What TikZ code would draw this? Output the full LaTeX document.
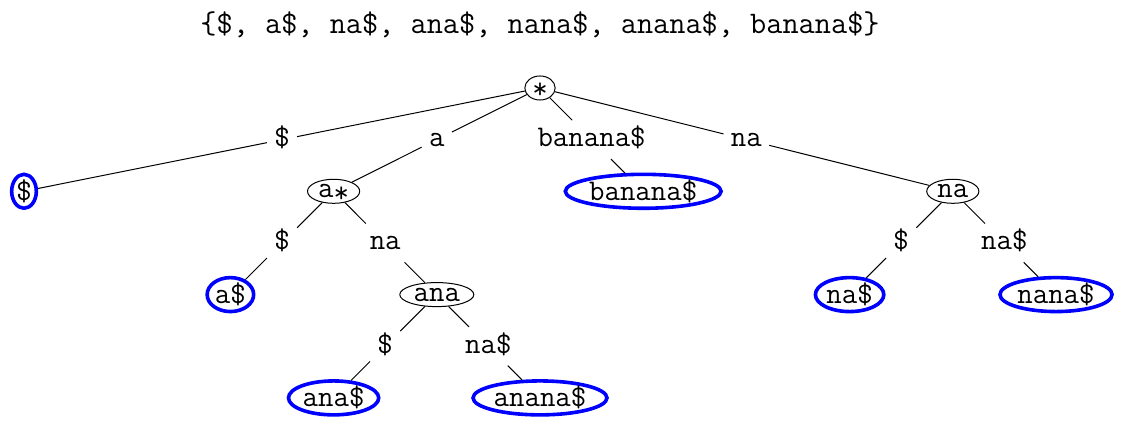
\documentclass[tikz,border=0pt]{standalone}
\usetikzlibrary{shapes.geometric,calc}
\definecolor{leafblue}{RGB}{0,0,255}
\newcommand{\tstar}{\raisebox{-0.15em}{*}}
\tikzset{
  inner/.style = {ellipse, draw, line width=0.5pt, inner xsep=1.5pt, inner ysep=1pt, text height=6.5pt, text depth=0pt},
  leaf/.style = {ellipse, draw=leafblue, line width=1.8pt, inner xsep=0.5pt, inner ysep=0pt, text height=10.5pt, text depth=1.5pt},
  elabel/.style = {inner xsep=3.5pt, inner ysep=4pt, text height=9pt, text depth=2pt},
}

\begin{document}
\begin{tikzpicture}[x=0.5pt, y=-0.5pt, font=\ttfamily\fontsize{15}{18}\selectfont]
  \pgfmathsetmacro{\gx}{51.6};
  \pgfmathsetmacro{\gy}{51.65};
  \pgfmathsetmacro{\cx}{540};
  \pgfmathsetmacro{\cy}{88};
  \useasboundingbox (0,0) rectangle (1133,426);
  % suffix set
  \node[font=\ttfamily\fontsize{15.7}{18}\selectfont] (title) at (\cx,25) {\{\$, a\$, na\$, ana\$, nana\$, anana\$, banana\$\}};
  % tree nodes
  \node[inner] (root) at (\cx,\cy) {\tstar};
  \node[leaf] (leafD) at ({\cx-10*\gx},{\cy+2*\gy}) {\$};
  \node[inner] (nA) at ({\cx-4*\gx},{\cy+2*\gy}) {a\tstar};
  \node[leaf] (leafB) at ({\cx+2*\gx},{\cy+2*\gy}) {banana\$};
  \node[inner] (nN) at ({\cx+8*\gx},{\cy+2*\gy}) {na};
  \node[leaf] (leafA) at ({\cx-6*\gx},{\cy+4*\gy}) {a\$};
  \node[inner] (nAna) at ({\cx-2*\gx},{\cy+4*\gy}) {ana};
  \node[leaf] (leafNa) at ({\cx+6*\gx},{\cy+4*\gy}) {na\$};
  \node[leaf] (leafNana) at ({\cx+10*\gx},{\cy+4*\gy}) {nana\$};
  \node[leaf] (leafAna) at ({\cx-4*\gx},{\cy+6*\gy}) {ana\$};
  \node[leaf] (leafAnana) at (\cx,{\cy+6*\gy}) {anana\$};
  % edge labels
  \node[elabel] (eD) at ($(root)!0.5!(leafD)$) {\$};
  \node[elabel] (eA) at ($(root)!0.5!(nA)$) {a};
  \node[elabel] (eB) at ($(root)!0.5!(leafB)$) {banana\$};
  \node[elabel] (eN) at ($(root)!0.5!(nN)$) {na};
  \node[elabel] (eAD) at ($(nA)!0.5!(leafA)$) {\$};
  \node[elabel] (eAN) at ($(nA)!0.5!(nAna)$) {na};
  \node[elabel] (eND) at ($(nN)!0.5!(leafNa)$) {\$};
  \node[elabel] (eNN) at ($(nN)!0.5!(leafNana)$) {na\$};
  \node[elabel] (eAnaD) at ($(nAna)!0.5!(leafAna)$) {\$};
  \node[elabel] (eAnaN) at ($(nAna)!0.5!(leafAnana)$) {na\$};
  % edges
  \foreach \p/\l/\c in {root/eD/leafD, root/eA/nA, root/eB/leafB, root/eN/nN,
                        nA/eAD/leafA, nA/eAN/nAna, nN/eND/leafNa, nN/eNN/leafNana,
                        nAna/eAnaD/leafAna, nAna/eAnaN/leafAnana} {%
    \draw[line width=0.5pt] (\p) -- (\l) (\l) -- (\c);
  }
\end{tikzpicture}
\end{document}
